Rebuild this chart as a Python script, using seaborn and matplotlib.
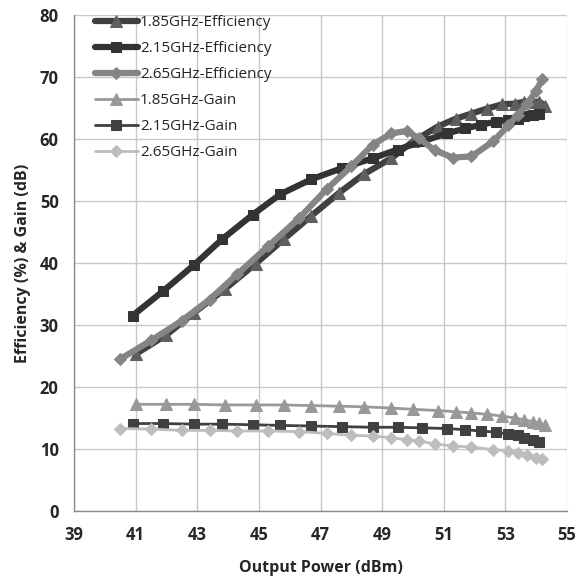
import matplotlib
matplotlib.use('Agg')
import matplotlib.pyplot as plt
import seaborn as sns
from matplotlib.ticker import MultipleLocator

# output power (dBm) for each frequency
pout_185 = [41.0, 42.0, 42.9, 43.9, 44.9, 45.8, 46.7, 47.6, 48.4, 49.3, 50.0,
            50.8, 51.4, 51.9, 52.4, 52.9, 53.3, 53.6, 53.9, 54.1, 54.3]
pout_215 = [40.9, 41.9, 42.9, 43.8, 44.8, 45.7, 46.7, 47.7, 48.7, 49.5, 50.3,
            51.1, 51.7, 52.2, 52.7, 53.1, 53.4, 53.6, 53.9, 54.1]
pout_265 = [40.5, 41.5, 42.5, 43.4, 44.3, 45.3, 46.3, 47.2, 48.0, 48.7, 49.3,
            49.8, 50.2, 50.7, 51.3, 51.9, 52.6, 53.1, 53.4, 53.7, 54.0, 54.2]

# drain efficiency (%)
eff_185 = [25.3, 28.4, 32.0, 35.8, 39.9, 43.8, 47.6, 51.3, 54.3, 56.9, 59.6,
           62.0, 63.3, 64.1, 64.9, 65.6, 65.7, 66.0, 66.0, 66.0, 65.3]
eff_215 = [31.5, 35.5, 39.7, 43.8, 47.8, 51.1, 53.5, 55.3, 56.9, 58.3, 59.6,
           60.9, 61.7, 62.3, 62.8, 63.1, 63.3, 63.7, 63.9, 64.1]
eff_265 = [24.5, 27.5, 30.7, 34.1, 38.2, 42.7, 47.2, 51.9, 55.6, 59.1, 60.9,
           61.3, 60.1, 58.2, 57.0, 57.2, 59.6, 62.2, 63.9, 65.6, 67.8, 69.7]

# gain (dB)
gain_185 = [17.2, 17.2, 17.2, 17.1, 17.1, 17.1, 17.0, 16.9, 16.8, 16.6, 16.4,
            16.2, 16.0, 15.8, 15.6, 15.3, 15.0, 14.7, 14.4, 14.2, 13.8]
gain_215 = [14.1, 14.1, 14.0, 14.0, 13.9, 13.8, 13.7, 13.6, 13.5, 13.5, 13.4,
            13.3, 13.1, 12.9, 12.7, 12.4, 12.2, 11.8, 11.5, 11.1]
gain_265 = [13.3, 13.2, 13.0, 13.0, 12.9, 12.9, 12.8, 12.5, 12.2, 12.1, 11.8,
            11.5, 11.3, 10.8, 10.5, 10.3, 9.9, 9.7, 9.4, 9.0, 8.6, 8.3]

sns.set_style('white')
plt.rcParams['font.family'] = ['Open Sans', 'DejaVu Sans']

fig = plt.figure(figsize=(5.78, 5.78), dpi=100)
ax = fig.add_axes([0.128, 0.116, 0.853, 0.858])

# efficiency curves: thick lines
sns.lineplot(x=pout_185, y=eff_185, ax=ax, color='#404040', lw=4.5, marker='^',
             markersize=8, markerfacecolor='#5f5f5f', markeredgecolor='#5f5f5f',
             label='1.85GHz-Efficiency', sort=False)
sns.lineplot(x=pout_215, y=eff_215, ax=ax, color='#333333', lw=4.5, marker='s',
             markersize=7, markerfacecolor='#333333', markeredgecolor='#333333',
             label='2.15GHz-Efficiency', sort=False)
sns.lineplot(x=pout_265, y=eff_265, ax=ax, color='#858585', lw=4.5, marker='D',
             markersize=6.5, markerfacecolor='#858585', markeredgecolor='#858585',
             label='2.65GHz-Efficiency', sort=False)

# gain curves: thinner lines
sns.lineplot(x=pout_185, y=gain_185, ax=ax, color='#999999', lw=2, marker='^',
             markersize=8, markerfacecolor='#999999', markeredgecolor='#999999',
             label='1.85GHz-Gain', sort=False)
sns.lineplot(x=pout_215, y=gain_215, ax=ax, color='#404040', lw=2, marker='s',
             markersize=7, markerfacecolor='#404040', markeredgecolor='#404040',
             label='2.15GHz-Gain', sort=False)
sns.lineplot(x=pout_265, y=gain_265, ax=ax, color='#bdbdbd', lw=2, marker='D',
             markersize=6, markerfacecolor='#bdbdbd', markeredgecolor='#bdbdbd',
             label='2.65GHz-Gain', sort=False)

ax.set_xlim(39, 55)
ax.set_ylim(0, 80)
ax.xaxis.set_major_locator(MultipleLocator(2))
ax.xaxis.set_minor_locator(MultipleLocator(1))
ax.yaxis.set_major_locator(MultipleLocator(10))
ax.grid(True, which='major', color='#c8c8c8', lw=1)
ax.set_axisbelow(True)

for s in ['top', 'right']:
    ax.spines[s].set_visible(False)
for s in ['left', 'bottom']:
    ax.spines[s].set_color('#8c8c8c')
    ax.spines[s].set_linewidth(1)

ax.tick_params(axis='both', which='major', direction='out', length=5,
               color='#8c8c8c', labelsize=12, pad=6)
ax.tick_params(axis='x', which='minor', direction='out', length=3, color='#8c8c8c')
ax.set_xticks([39, 41, 43, 45, 47, 49, 51, 53, 55])
ax.set_xticklabels(['39', '41', '43', '45', '47', '49', '51', '53', '55'])
for lbl in ax.get_xticklabels() + ax.get_yticklabels():
    lbl.set_fontweight('bold')
    lbl.set_fontsize(12)

ax.set_xlabel('Output Power (dBm)', fontsize=11.5, fontweight='bold', labelpad=11)
ax.set_ylabel('Efficiency (%) & Gain (dB)', fontsize=11.5, fontweight='bold', labelpad=6)

leg = ax.legend(loc='upper left', frameon=False, fontsize=11, handlelength=2.8,
                handletextpad=0.15, labelspacing=0.72, borderaxespad=0.0,
                bbox_to_anchor=(0.03, 1.012))

plt.savefig('out.png', dpi=100)
